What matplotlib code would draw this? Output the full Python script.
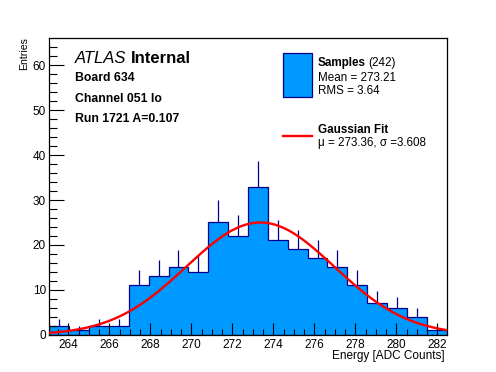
import numpy as np
import matplotlib
matplotlib.use("Agg")
import matplotlib.pyplot as plt
from matplotlib.patches import Rectangle
from matplotlib.lines import Line2D

# ---- data ----
x_min = 263.07
x_max = 282.45
counts = [2, 1, 2, 2, 11, 13, 15, 14, 25, 22, 33, 21, 19, 17, 15, 11, 7, 6, 4, 1]
fit_mu = 273.36
fit_sigma = 3.608
fit_amp = 25.0
x_ticks = [264, 266, 268, 270, 272, 274, 276, 278, 280, 282]
y_ticks = [0, 10, 20, 30, 40, 50, 60]

W, H = 496, 372
plt.rcParams['font.family'] = ['Liberation Sans', 'DejaVu Sans']
fig = plt.figure(figsize=(W / 100, H / 100), dpi=100)

def fx(px):
    return px / W

def fy(py):
    return 1 - py / H

ax_l, ax_r, ax_b, ax_t = 49.3, 446.7, 334.8, 38.3
ax = fig.add_axes([fx(ax_l), fy(ax_b), fx(ax_r - ax_l), (ax_b - ax_t) / H])

edges = np.linspace(x_min, x_max, len(counts) + 1)
centers = 0.5 * (edges[:-1] + edges[1:])
fill_c = '#0099ff'
edge_c = '#00008f'

ax.hist(centers, bins=edges, weights=counts, histtype='stepfilled',
        facecolor=fill_c, edgecolor=edge_c, linewidth=0.9, zorder=1)
cnt = np.array(counts, dtype=float)
ax.vlines(centers, cnt, cnt + np.sqrt(cnt), color=edge_c, linewidth=0.9, zorder=1.2)

xf = np.linspace(x_min, x_max, 500)
yf = fit_amp * np.exp(-0.5 * ((xf - fit_mu) / fit_sigma) ** 2)
ax.plot(xf, yf, color='#ff0000', linewidth=1.7, zorder=3)

ax.set_xlim(x_min, x_max)
ax.set_ylim(0, 66)
ax.set_xticks(x_ticks)
ax.set_yticks(y_ticks)
ax.set_xticks(np.arange(263.5, 282.5, 0.5), minor=True)
ax.set_yticks(np.arange(0, 66, 2), minor=True)
ax.tick_params(axis='x', which='major', direction='in', length=8.5, width=0.8,
               labelsize=8.5, pad=3, top=False)
ax.tick_params(axis='x', which='minor', direction='in', length=4.3, width=0.8, top=False)
ax.tick_params(axis='y', which='major', direction='in', length=11, width=0.8,
               labelsize=8.5, pad=2.5, right=False)
ax.tick_params(axis='y', which='minor', direction='in', length=5.5, width=0.8, right=False)
ax.set_axisbelow(False)
for s in ax.spines.values():
    s.set_linewidth(0.9)

# axis titles
fig.text(fx(445), fy(359.5), 'Energy [ADC Counts]', ha='right', va='baseline', fontsize=8.5)
fig.text(fx(24), fy(37), 'Entries', ha='center', va='top', rotation=90, fontsize=7.6)

# ATLAS label
fig.canvas.draw()
r = fig.canvas.get_renderer()
t1 = fig.text(fx(75), fy(63), 'ATLAS', style='italic', fontsize=12, va='baseline', ha='left')
bb = t1.get_window_extent(renderer=r)
fig.text((bb.x1 + 4.5) / W, fy(63), 'Internal', weight='bold', fontsize=12, va='baseline', ha='left')
fig.text(fx(75), fy(80.7), 'Board 634', weight='bold', fontsize=8.8, va='baseline', ha='left')
fig.text(fx(75), fy(101.5), 'Channel 051 lo', weight='bold', fontsize=8.8, va='baseline', ha='left')
fig.text(fx(75), fy(122), 'Run 1721 A=0.107', weight='bold', fontsize=8.8, va='baseline', ha='left')

# legend
fig.patches.append(Rectangle((fx(283.3), fy(96.7)), fx(311.7 - 283.3), (96.7 - 53.3) / H,
                             transform=fig.transFigure, facecolor=fill_c, edgecolor=edge_c,
                             linewidth=0.9))
fig.lines.append(Line2D([fx(283.3), fx(311.7)], [fy(136), fy(136)], transform=fig.transFigure,
                        color='#ff0000', linewidth=1.7))
lx = fx(317.7)
t2 = fig.text(lx, fy(65.8), 'Samples', weight='bold', fontsize=8.4, va='baseline', ha='left')
bb2 = t2.get_window_extent(renderer=r)
fig.text((bb2.x1 + 2.5) / W, fy(65.8), '(242)', fontsize=8.4, va='baseline', ha='left')
fig.text(lx, fy(80.8), 'Mean = 273.21', fontsize=8.4, va='baseline', ha='left')
fig.text(lx, fy(94.3), 'RMS = 3.64', fontsize=8.4, va='baseline', ha='left')
fig.text(lx, fy(133.4), 'Gaussian Fit', weight='bold', fontsize=8.4, va='baseline', ha='left')
fig.text(lx, fy(145.6), 'μ = 273.36, σ =3.608', fontsize=8.4, va='baseline', ha='left')

fig.savefig('out.png', dpi=100, facecolor='white')
